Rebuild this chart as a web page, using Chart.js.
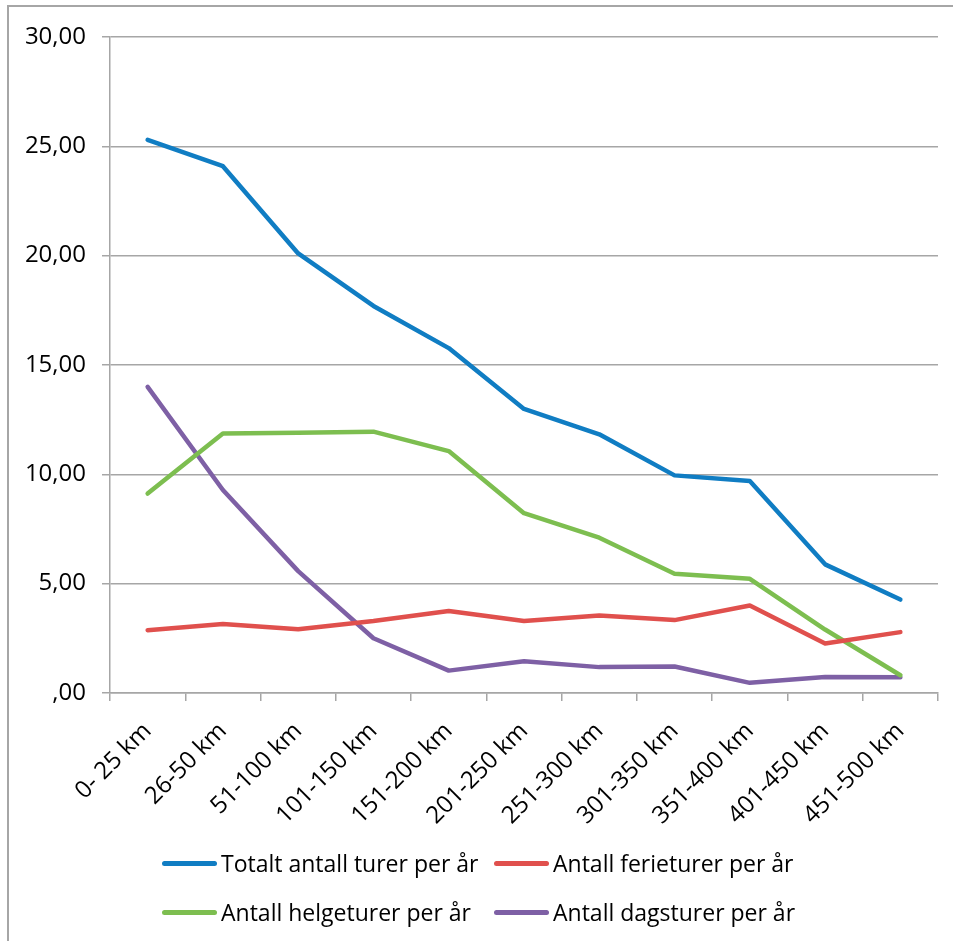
<!DOCTYPE html>
<html>
<head>
<meta charset="utf-8">
<script src="https://cdn.jsdelivr.net/npm/chart.js@4"></script>
<style>
  html, body { margin: 0; padding: 0; background: #fff; }
  #wrap { position: relative; width: 953px; height: 941px; overflow: hidden; }
  #frame { position: absolute; left: 7px; top: 5px; width: 2000px; height: 2000px;
           border-left: 2px solid #a6a6a6; border-top: 2px solid #a6a6a6; }
  canvas { position: absolute; left: 0; top: 0; }
  .leg { position: absolute; font-family: "Open Sans", Lato, sans-serif; font-size: 23px; color: #000;
         display: flex; align-items: center; white-space: nowrap; }
  .leg span.ln { display: inline-block; width: 55px; height: 5px; border-radius: 3px; margin-right: 4px; }
</style>
</head>
<body>
<div id="wrap">
  <div id="frame"></div>
  <canvas id="c" width="953" height="941"></canvas>
  <div id="legend"></div>
</div>
<script>
const categories = ['0- 25 km','26-50 km','51-100 km','101-150 km','151-200 km','201-250 km','251-300 km','301-350 km','351-400 km','401-450 km','451-500 km'];
const totalt  = [25.30, 24.09, 20.10, 17.70, 15.77, 12.99, 11.83, 9.95, 9.69, 5.88, 4.27];
const ferie   = [2.87, 3.15, 2.91, 3.29, 3.75, 3.29, 3.54, 3.33, 4.00, 2.26, 2.78];
const helg    = [9.12, 11.87, 11.90, 11.95, 11.06, 8.22, 7.10, 5.45, 5.22, 2.90, 0.81];
const dags    = [14.00, 9.28, 5.57, 2.50, 1.02, 1.45, 1.18, 1.21, 0.46, 0.73, 0.72];
const seriesNames = ['Totalt antall turer per år','Antall ferieturer per år','Antall helgeturer per år','Antall dagsturer per år'];
const colors = ['#107dc3','#e0504d','#7dbe50','#7e60a5'];
const yTicks = [0, 5, 10, 15, 20, 25, 30];

const FONT = '"Open Sans", Lato, sans-serif';
const values = [totalt, ferie, helg, dags];

const datasets = values.map((v, i) => ({
  label: seriesNames[i],
  data: v,
  borderColor: colors[i],
  backgroundColor: colors[i],
  borderWidth: 4.5,
  pointRadius: 0,
  pointHoverRadius: 0,
  tension: 0,
  fill: false,
  borderJoinStyle: 'round',
  borderCapStyle: 'round'
}));

new Chart(document.getElementById('c'), {
  type: 'line',
  data: { labels: categories, datasets },
  options: {
    responsive: false,
    animation: false,
    devicePixelRatio: 1,
    layout: { padding: { top: 37, right: 15, bottom: 95, left: 0 } },
    plugins: { legend: { display: false }, tooltip: { enabled: false } },
    scales: {
      x: {
        offset: true,
        grid: { offset: true, drawOnChartArea: false, drawTicks: true, tickLength: 8, color: '#a6a6a6', lineWidth: 1.5 },
        border: { display: true, color: '#a6a6a6', width: 1.5 },
        ticks: { autoSkip: false, maxRotation: 45, minRotation: 45, padding: 16,
                 font: { family: FONT, size: 24 }, color: '#000' }
      },
      y: {
        min: 0, max: 30,
        afterBuildTicks: (s) => { s.ticks = yTicks.map(v => ({ value: v })); },
        grid: { color: '#a6a6a6', lineWidth: 1.5, tickLength: 8 },
        border: { display: true, color: '#a6a6a6', width: 1.5 },
        ticks: {
          padding: 16,
          font: { family: FONT, size: 24 }, color: '#000',
          callback: (v) => v === 0 ? ',00' : Number(v).toFixed(2).replace('.', ',')
        },
        afterFit: (s) => { s.width = 110; }
      }
    }
  }
});

// HTML legend (two columns, two rows)
const legPos = [[162, 863], [494, 863], [162, 912], [494, 912]];
const legEl = document.getElementById('legend');
seriesNames.forEach((name, i) => {
  const d = document.createElement('div');
  d.className = 'leg';
  d.style.left = legPos[i][0] + 'px';
  d.style.top = (legPos[i][1] - 17) + 'px';
  d.style.height = '34px';
  const ln = document.createElement('span');
  ln.className = 'ln';
  ln.style.background = colors[i];
  d.appendChild(ln);
  d.appendChild(document.createTextNode(name));
  legEl.appendChild(d);
});
</script>
</body>
</html>
